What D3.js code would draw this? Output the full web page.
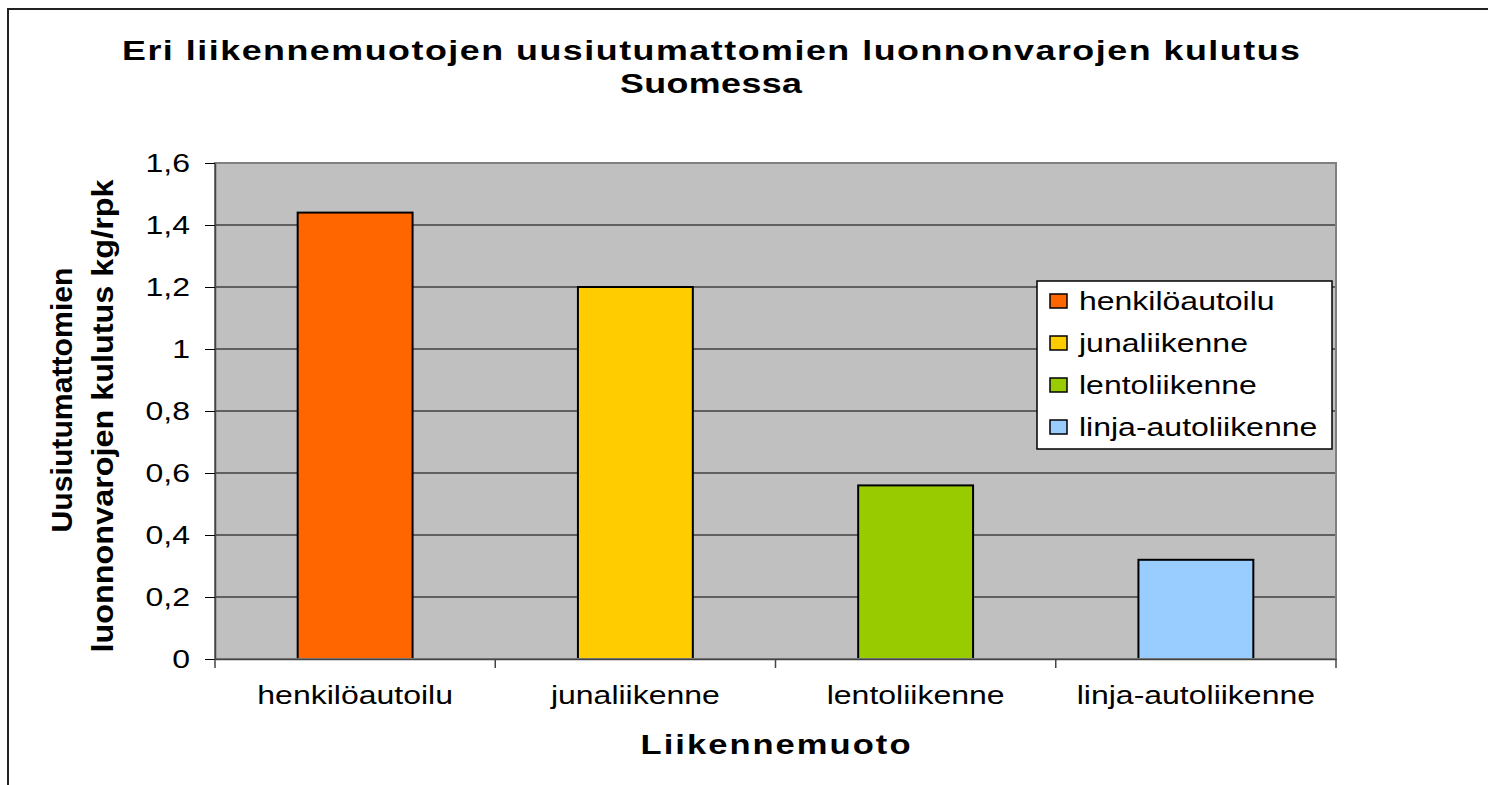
<!DOCTYPE html>
<html>
<head>
<meta charset="utf-8">
<script src="https://cdn.jsdelivr.net/npm/d3@7"></script>
<style>
  body { margin: 0; background: #fff; }
  svg text { font-family: "Liberation Sans", Arial, sans-serif; fill: #000; }
</style>
</head>
<body>
<div id="chart"></div>
<script>
// data
const categories = ['henkilöautoilu', 'junaliikenne', 'lentoliikenne', 'linja-autoliikenne'];
const values = [1.44, 1.2, 0.56, 0.32];
const colors = ['#FF6600', '#FFCC00', '#99CC00', '#99CCFF'];
const yTicks = [0, 0.2, 0.4, 0.6, 0.8, 1, 1.2, 1.4, 1.6];
const titleLines = ['Eri liikennemuotojen uusiutumattomien luonnonvarojen kulutus', 'Suomessa'];
const yTitleLines = ['Uusiutumattomien', 'luonnonvarojen kulutus kg/rpk'];
const xTitle = 'Liikennemuoto';

const W = 1488, H = 785;
const SX = 1.28; // the old chart picture is stretched sideways, so is the text

const svg = d3.select('#chart').append('svg')
    .attr('width', W).attr('height', H);

// outer chart frame (runs off the right and bottom edge)
svg.append('path')
    .attr('d', 'M8,' + H + 'V9H' + W)
    .attr('fill', 'none')
    .attr('stroke', '#222')
    .attr('stroke-width', 2);

const plot = {left: 215, right: 1336, top: 163, bottom: 659};

const x = d3.scaleBand()
    .domain(categories)
    .range([plot.left, plot.right])
    .paddingInner(0.59)
    .paddingOuter(0.295);

const y = d3.scaleLinear()
    .domain([0, 1.6])
    .range([plot.bottom, plot.top]);

const fmt = d => String(d).replace('.', ',');

// stretched text helper
function label(g, px, py, str, o) {
    const t = g.append('text')
        .attr('transform', 'translate(' + px + ',' + py + ') scale(' + SX + ',1)')
        .attr('text-anchor', o.anchor || 'middle')
        .attr('font-size', o.size)
        .attr('font-weight', o.bold ? 'bold' : null)
        .text(str);
    if (o.len) {
        t.attr('textLength', o.len / SX).attr('lengthAdjust', 'spacing');
    }
    return t;
}

// title
label(svg, 711, 60, titleLines[0], {size: 28, bold: true, len: 1178});
label(svg, 711, 93, titleLines[1], {size: 28, bold: true, len: 182});

// plot background
svg.append('rect')
    .attr('x', plot.left).attr('y', plot.top)
    .attr('width', plot.right - plot.left)
    .attr('height', plot.bottom - plot.top)
    .attr('fill', '#C0C0C0');

// gridlines
svg.append('g')
    .selectAll('line')
    .data(yTicks.filter(d => d > 0 && d < 1.6))
    .join('line')
    .attr('x1', plot.left).attr('x2', plot.right)
    .attr('y1', d => y(d)).attr('y2', d => y(d))
    .attr('stroke', '#000')
    .attr('stroke-width', 1);

// bars
svg.append('g')
    .selectAll('rect')
    .data(values)
    .join('rect')
    .attr('x', (d, i) => x(categories[i]))
    .attr('y', d => y(d))
    .attr('width', x.bandwidth())
    .attr('height', d => y(0) - y(d))
    .attr('fill', (d, i) => colors[i])
    .attr('stroke', '#000')
    .attr('stroke-width', 2);

// plot frame
svg.append('rect')
    .attr('x', plot.left).attr('y', plot.top)
    .attr('width', plot.right - plot.left)
    .attr('height', plot.bottom - plot.top)
    .attr('fill', 'none')
    .attr('stroke', '#808080')
    .attr('stroke-width', 2);

// y axis
const yAxis = svg.append('g')
    .attr('transform', 'translate(' + plot.left + ',0)')
    .call(d3.axisLeft(y).tickValues(yTicks).tickFormat(fmt).tickSize(10).tickPadding(9.5).tickSizeOuter(0));
yAxis.select('.domain').attr('stroke', '#444').attr('stroke-width', 1.5);
yAxis.selectAll('.tick line').attr('stroke', '#000');
yAxis.selectAll('.tick text')
    .attr('font-size', 25)
    .attr('transform', 'scale(' + SX + ',1)');

// x axis: labels at centres, ticks on the category borders
const xAxis = svg.append('g')
    .attr('transform', 'translate(0,' + plot.bottom + ')')
    .call(d3.axisBottom(x).tickSize(0).tickPadding(27).tickSizeOuter(0));
xAxis.select('.domain').attr('stroke', '#444').attr('stroke-width', 1.5);
xAxis.selectAll('.tick text')
    .attr('font-size', 25)
    .attr('transform', 'scale(' + SX + ',1)');

const border0 = x(categories[0]) - x.step() * x.paddingInner() / 2;
xAxis.selectAll('.border')
    .data(d3.range(categories.length + 1))
    .join('line')
    .attr('class', 'border')
    .attr('x1', i => border0 + i * x.step())
    .attr('x2', i => border0 + i * x.step())
    .attr('y1', 0).attr('y2', 9)
    .attr('stroke', '#444')
    .attr('stroke-width', 1.5);

// axis titles
label(svg, (plot.left + plot.right) / 2, 754, xTitle, {size: 27, bold: true, len: 270});

const yTitlePos = [{bx: 72, cy: 400, len: 265}, {bx: 113, cy: 416, len: 473}];
yTitleLines.forEach((s, i) => {
    const p = yTitlePos[i];
    svg.append('text')
        .attr('transform', 'translate(' + p.bx + ',' + p.cy + ') rotate(-90) scale(1,' + SX + ')')
        .attr('text-anchor', 'middle')
        .attr('font-size', 23)
        .attr('font-weight', 'bold')
        .attr('textLength', p.len)
        .attr('lengthAdjust', 'spacingAndGlyphs')
        .text(s);
});

// legend
const legend = svg.append('g');
legend.append('rect')
    .attr('x', 1037).attr('y', 281)
    .attr('width', 295).attr('height', 168)
    .attr('fill', '#fff')
    .attr('stroke', '#000')
    .attr('stroke-width', 1.5);

const item = legend.selectAll('g.item')
    .data(categories)
    .join('g')
    .attr('class', 'item')
    .attr('transform', (d, i) => 'translate(0,' + (301 + i * 42) + ')');
item.append('rect')
    .attr('x', 1050).attr('y', -7)
    .attr('width', 17).attr('height', 14)
    .attr('fill', (d, i) => colors[i])
    .attr('stroke', '#000')
    .attr('stroke-width', 1.5);
item.each(function(d) {
    label(d3.select(this), 1079, 9, d, {size: 25, anchor: 'start'});
});
</script>
</body>
</html>
